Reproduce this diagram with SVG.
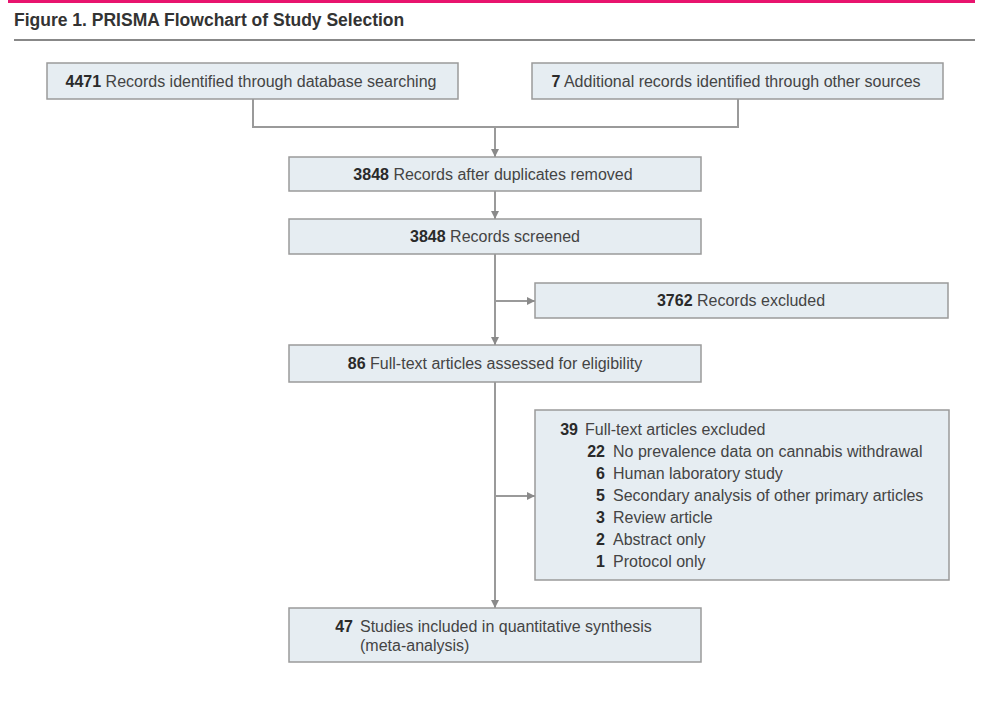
<svg xmlns="http://www.w3.org/2000/svg" width="981" height="704" viewBox="0 0 981 704">
<style>
text{font-family:"Liberation Sans",Arial,sans-serif;font-size:16px;fill:#444}
.n{font-weight:bold;fill:#2a2a2a}
.box{fill:#e6edf2;stroke:#9a9a9a;stroke-width:1.5}
.c{fill:none;stroke:#9a9a9a;stroke-width:2}
.title{font-weight:bold;font-size:17.5px;fill:#333}
</style>
<defs>
<marker id="ah" viewBox="0 0 10 10" refX="10" refY="5" markerWidth="4" markerHeight="4" orient="auto" markerUnits="strokeWidth">
<path d="M0,0 L10,5 L0,10 z" fill="#8a8a8a"/>
</marker>
</defs>
<rect x="8" y="0" width="967" height="3" fill="#e8146e"/>
<text class="title" x="14" y="26">Figure 1. PRISMA Flowchart of Study Selection</text>
<line x1="14" y1="40" x2="975" y2="40" stroke="#888" stroke-width="2"/>
<g id="connectors">
<path class="c" d="M253,99 V127 H738 V99"/>
<path class="c" d="M495,127 V157" marker-end="url(#ah)"/>
<path class="c" d="M495,191 V219" marker-end="url(#ah)"/>
<path class="c" d="M495,254 V345" marker-end="url(#ah)"/>
<path class="c" d="M495,301 H535" marker-end="url(#ah)"/>
<path class="c" d="M495,382 V608" marker-end="url(#ah)"/>
<path class="c" d="M495,496 H535" marker-end="url(#ah)"/>
</g>
<g id="n1"><rect class="box" x="47" y="63" width="411" height="36"/>
<text x="251" y="87" text-anchor="middle"><tspan class="n">4471</tspan>  Records identified through database searching</text></g>
<g id="n2"><rect class="box" x="532" y="63" width="411" height="36"/>
<text x="736" y="87" text-anchor="middle"><tspan class="n">7</tspan>  Additional records identified through other sources</text></g>
<g id="n3"><rect class="box" x="289" y="157" width="412" height="34"/>
<text x="493" y="180" text-anchor="middle"><tspan class="n">3848</tspan>  Records after duplicates removed</text></g>
<g id="n4"><rect class="box" x="289" y="219" width="412" height="35"/>
<text x="495" y="242" text-anchor="middle"><tspan class="n">3848</tspan>  Records screened</text></g>
<g id="n5"><rect class="box" x="535" y="283" width="413" height="35"/>
<text x="741" y="306" text-anchor="middle"><tspan class="n">3762</tspan>  Records excluded</text></g>
<g id="n6"><rect class="box" x="289" y="345" width="412" height="37"/>
<text x="495" y="369" text-anchor="middle"><tspan class="n">86</tspan>  Full-text articles assessed for eligibility</text></g>
<g id="n7"><rect class="box" x="535" y="410" width="414" height="170"/>
<text class="n" x="578" y="435" text-anchor="end">39</text><text x="585" y="435">Full-text articles excluded</text>
<text class="n" x="605" y="457" text-anchor="end">22</text><text x="613" y="457">No prevalence data on cannabis withdrawal</text>
<text class="n" x="605" y="479" text-anchor="end">6</text><text x="613" y="479">Human laboratory study</text>
<text class="n" x="605" y="501" text-anchor="end">5</text><text x="613" y="501">Secondary analysis of other primary articles</text>
<text class="n" x="605" y="523" text-anchor="end">3</text><text x="613" y="523">Review article</text>
<text class="n" x="605" y="545" text-anchor="end">2</text><text x="613" y="545">Abstract only</text>
<text class="n" x="605" y="567" text-anchor="end">1</text><text x="613" y="567">Protocol only</text></g>
<g id="n8"><rect class="box" x="289" y="608" width="412" height="54"/>
<text class="n" x="353" y="632" text-anchor="end">47</text><text x="360" y="632">Studies included in quantitative synthesis</text>
<text x="360" y="651">(meta-analysis)</text></g>
</svg>
